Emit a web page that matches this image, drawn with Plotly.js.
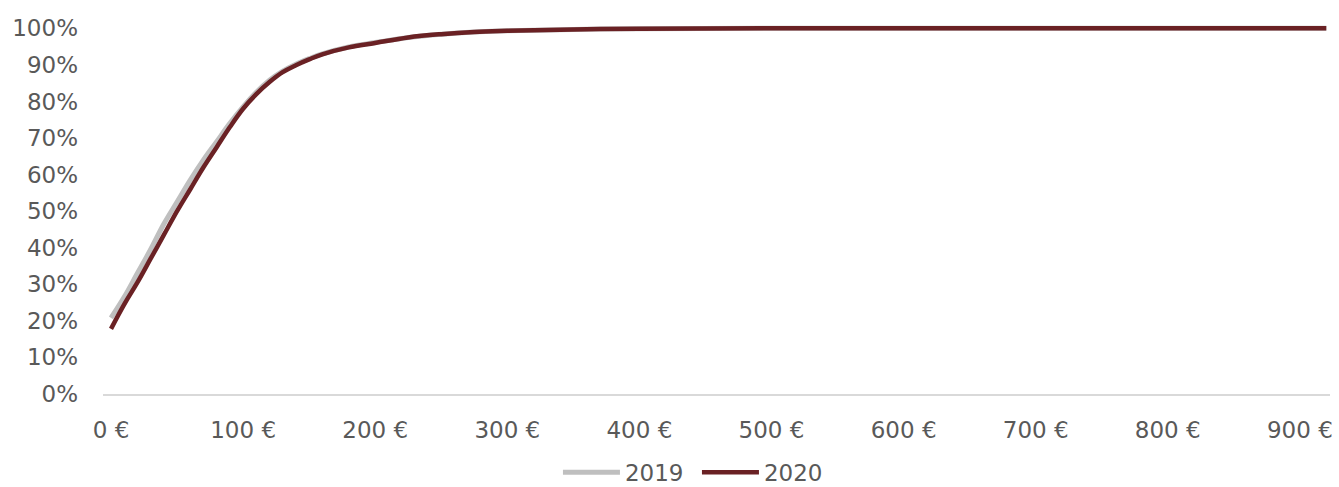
<!DOCTYPE html>
<html>
<head>
<meta charset="utf-8">
<script src="https://cdn.plot.ly/plotly-3.0.1.min.js"></script>
<style>html,body{margin:0;padding:0;background:#fff;}#chart{width:1339px;height:487px;}</style>
</head>
<body>
<div id="chart"></div>
<script>
var amounts = [0, 10, 20, 30, 40, 50, 60, 70, 80, 90, 100, 110, 120, 130, 140, 150, 160, 180, 200, 225, 250, 275, 300, 350, 400, 500, 600, 700, 800, 920];
var share2019 = [0.208, 0.265, 0.33, 0.395, 0.465, 0.525, 0.585, 0.64, 0.69, 0.74, 0.785, 0.825, 0.858, 0.883, 0.902, 0.917, 0.93, 0.949, 0.961, 0.975, 0.984, 0.99, 0.993, 0.997, 0.999, 1.0, 1.0, 1.0, 1.0, 1.0];
var share2020 = [0.178, 0.245, 0.305, 0.37, 0.435, 0.5, 0.56, 0.62, 0.675, 0.73, 0.78, 0.82, 0.853, 0.88, 0.899, 0.915, 0.929, 0.948, 0.96, 0.975, 0.984, 0.99, 0.993, 0.997, 0.999, 1.0, 1.0, 1.0, 1.0, 1.0];
var xTickValues = [0, 100, 200, 300, 400, 500, 600, 700, 800, 900];
var xTickLabels = ["0 €", "100 €", "200 €", "300 €", "400 €", "500 €", "600 €", "700 €", "800 €", "900 €"];
var yTickValues = [0, 0.1, 0.2, 0.3, 0.4, 0.5, 0.6, 0.7, 0.8, 0.9, 1.0];

var font = {family: "DejaVu Sans, Verdana, sans-serif", size: 23, color: "#595959"};

var traces = [
  {x: amounts, y: share2019, name: "2019", type: "scatter", mode: "lines",
   line: {color: "#bfbfbf", width: 5, shape: "spline", smoothing: 1.1}},
  {x: amounts, y: share2020, name: "2020", type: "scatter", mode: "lines",
   line: {color: "#6a2124", width: 4.5, shape: "spline", smoothing: 1.1}}
];

var layout = {
  width: 1339, height: 487,
  margin: {l: 103, r: 9, t: 21, b: 93, autoexpand: false},
  paper_bgcolor: "#fff", plot_bgcolor: "#fff",
  font: font,
  showlegend: true,
  legend: {orientation: "h", x: 0.5205, xanchor: "center", xref: "container",
           y: 0.03, yanchor: "middle", yref: "container",
           font: font, itemwidth: 57, tracegroupgap: 0, entrywidth: 67},
  xaxis: {range: [-6.06, 922.8], tickvals: xTickValues, ticktext: xTickLabels,
          showgrid: false, zeroline: false, showline: true, linecolor: "#d9d9d9", linewidth: 2,
          ticks: "", ticklabelstandoff: 14, tickfont: font, fixedrange: true},
  yaxis: {range: [0, 1.02], tickvals: yTickValues, tickformat: ".0%",
          showgrid: false, zeroline: false, showline: false,
          ticks: "", ticklabelstandoff: 24, tickfont: font, fixedrange: true}
};

Plotly.newPlot("chart", traces, layout, {displayModeBar: false, staticPlot: true});
</script>
</body>
</html>
